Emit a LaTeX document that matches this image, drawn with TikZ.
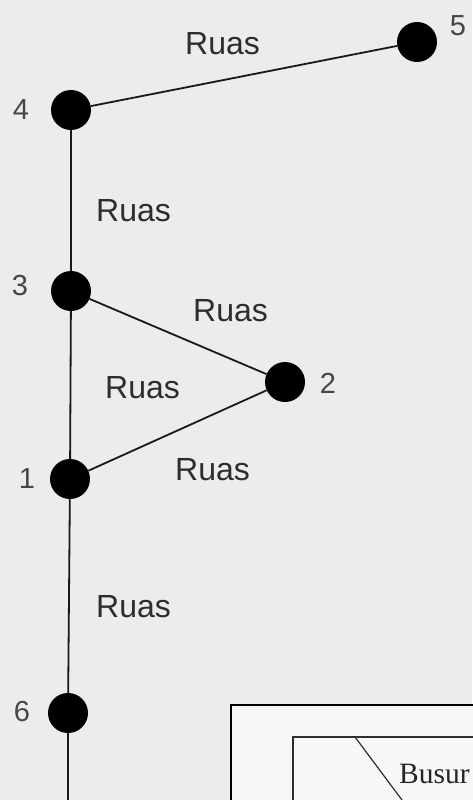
\documentclass[tikz,border=0pt]{standalone}
\usepackage{fontspec}
\setmainfont{Liberation Sans}
\newfontfamily\serifbox{Liberation Serif}
\definecolor{paper}{RGB}{236,236,234}
\definecolor{inkgray}{RGB}{45,45,45}
\definecolor{numgray}{RGB}{70,70,70}
\tikzset{
  vertex/.style={circle, fill=black, inner sep=0pt, minimum size=40pt},
  ruas/.style={text=inkgray, font=\fontsize{32}{32}\selectfont, inner sep=0pt, anchor=west},
  num/.style={text=numgray, font=\fontsize{29}{29}\selectfont, inner sep=0pt},
  edge/.style={draw=black!90, line width=1.8pt},
}
\begin{document}
\begin{tikzpicture}[x=1pt, y=-1pt]
  % page background
  \fill[paper] (0,0) rectangle (472,800);
  \useasboundingbox (0,0) rectangle (472,800);

  % vertices
  \node[vertex] (v5) at (417,42) {};
  \node[vertex] (v4) at (71,110) {};
  \node[vertex] (v3) at (71,291) {};
  \node[vertex] (v2) at (285,382) {};
  \node[vertex] (v1) at (70,479) {};
  \node[vertex] (v6) at (68,713) {};
  \coordinate (bottom) at (68,800);

  % edges
  \path[edge] (v4) -- (v5);
  \path[edge] (v4) -- (v3);
  \path[edge] (v3) -- (v2);
  \path[edge] (v3) -- (v1);
  \path[edge] (v1) -- (v2);
  \path[edge] (v1) -- (v6);
  \path[edge] (v6) -- (bottom);

  % vertex numbers
  \node[num] (n5) at (458,26) {5};
  \node[num] (n4) at (21,110) {4};
  \node[num] (n3) at (20,286) {3};
  \node[num] (n2) at (328,383) {2};
  \node[num] (n1) at (27,479) {1};
  \node[num] (n6) at (22,712) {6};

  % edge labels
  \node[ruas] (r45) at (185,44) {Ruas};
  \node[ruas] (r34) at (96,211) {Ruas};
  \node[ruas] (r32) at (193,311) {Ruas};
  \node[ruas] (r31) at (105,388) {Ruas};
  \node[ruas] (r12) at (175,470) {Ruas};
  \node[ruas] (r16) at (96,607) {Ruas};

  % framed table in the corner
  \fill[white!50!paper] (231,705) rectangle (480,810);
  \draw[black, line width=2.4pt] (480,705) -- (231,705) -- (231,810);
  \fill[white!65!paper] (293,737) rectangle (480,810);
  \draw[inkgray, line width=1.3pt] (480,737) -- (293,737) -- (293,810);
  \coordinate (diagA) at (355,737);
  \coordinate (diagB) at (402,800);
  \draw[inkgray, line width=1.2pt] (diagA) -- (diagB);
  \node[inner sep=0pt, anchor=base west, text=black!85,
        font=\serifbox\fontsize{29.5}{29.5}\selectfont] (busur) at (399,783) {Busur};
\end{tikzpicture}
\end{document}
